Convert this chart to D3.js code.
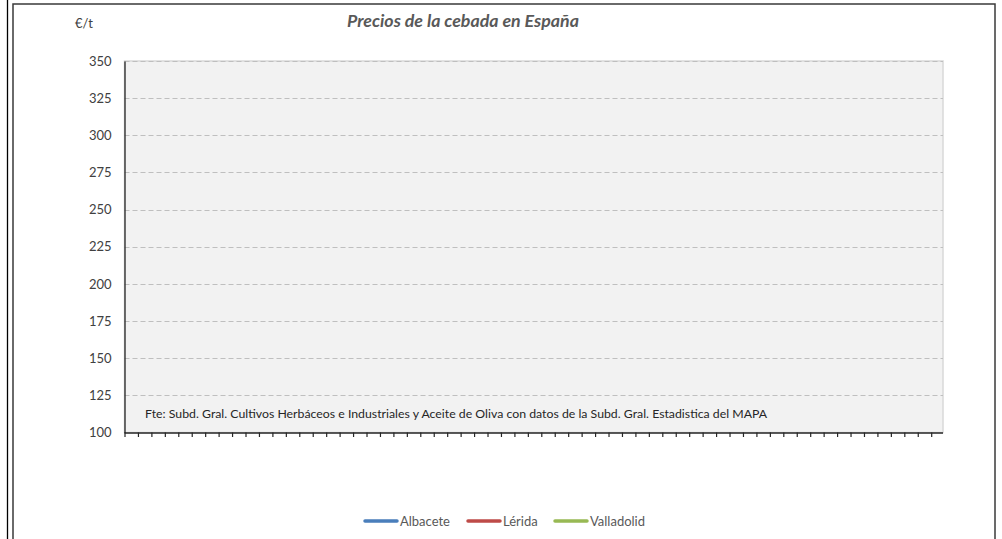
<!DOCTYPE html>
<html>
<head>
<meta charset="utf-8">
<script src="https://cdn.jsdelivr.net/npm/d3@7"></script>
<style>
  html, body { margin: 0; padding: 0; background: #fff; }
  svg { display: block; }
  text { font-family: Lato, "Open Sans", sans-serif; }
</style>
</head>
<body>
<svg id="chart" width="1002" height="539"></svg>
<script>
// ---- Data ----
const categories = ["1","2","3","4","5","6","7","8","9","10","11","12","13","14","15","16","17","18","19","20",
  "21","22","23","24","25","26","27","28","29","30","31","32","33","34","35","36","37","38","39","40",
  "41","42","43","44","45","46","47","48","49","50","51","52","53","54","55","56","57","58","59","60","61"];
const seriesNames = ["Albacete", "Lérida", "Valladolid"];
const albacete = [];
const lerida = [];
const valladolid = [];
const yTicks = [100, 125, 150, 175, 200, 225, 250, 275, 300, 325, 350];
const title = "Precios de la cebada en España";
const unitLabel = "€/t";
const sourceText = "Fte: Subd. Gral. Cultivos Herbáceos e Industriales y Aceite de Oliva con datos de la Subd. Gral. Estadistica del MAPA";

const seriesValues = [albacete, lerida, valladolid];
const colors = ["#4a7ebb", "#be4b48", "#98b954"];

// ---- Layout ----
const svg = d3.select("#chart");
const plot = { left: 124.5, top: 61, right: 943, bottom: 432.5 };

// outer frames
svg.append("line").attr("x1", 7.5).attr("x2", 7.5).attr("y1", 0).attr("y2", 539)
  .attr("stroke", "#000").attr("stroke-width", 1.3);
svg.append("rect").attr("x", 13).attr("y", 4).attr("width", 982).attr("height", 560)
  .attr("fill", "none").attr("stroke", "#3a3a3a").attr("stroke-width", 1.5);

// scales
const x = d3.scalePoint().domain(categories).range([plot.left, plot.left + 13.445 * (categories.length - 1)]);
const y = d3.scaleLinear().domain([100, 350]).range([plot.bottom, plot.top]);

// plot background
svg.append("rect").attr("x", plot.left).attr("y", plot.top)
  .attr("width", plot.right - plot.left).attr("height", plot.bottom - plot.top)
  .attr("fill", "#f2f2f2").attr("stroke", "#d9d9d9").attr("stroke-width", 1.5);

// gridlines
svg.append("g").selectAll("line").data(yTicks.filter(d => d > 100)).join("line")
  .attr("x1", plot.left).attr("x2", plot.right)
  .attr("y1", d => Math.round(y(d)) + 0.5).attr("y2", d => Math.round(y(d)) + 0.5)
  .attr("stroke", "#bfbfbf").attr("stroke-width", 1).attr("stroke-dasharray", "5,3");

// y-axis
const yAxis = d3.axisLeft(y).tickValues(yTicks).tickSize(0).tickPadding(13);
const gy = svg.append("g").attr("transform", `translate(${plot.left},0)`).call(yAxis);
gy.select(".domain").attr("stroke", "#262626").attr("stroke-width", 1.3);
gy.selectAll("text").attr("font-size", 13).attr("fill", "#404040")
  .attr("font-family", "Lato, 'Open Sans', sans-serif");

// x-axis
const xAxis = d3.axisBottom(x).tickSize(4.5).tickFormat("");
const gx = svg.append("g").attr("transform", `translate(0,${plot.bottom})`).call(xAxis);
gx.select(".domain").attr("d", `M${plot.left},0.5H${plot.right}`).attr("stroke", "#262626").attr("stroke-width", 1.3);
gx.selectAll(".tick line").attr("stroke", "#262626").attr("stroke-width", 1.2);

// series lines (empty data)
const line = d3.line().defined(d => d != null).x((d, i) => x(categories[i])).y(d => y(d));
svg.append("g").selectAll("path").data(seriesValues).join("path")
  .attr("d", d => line(d)).attr("fill", "none")
  .attr("stroke", (d, i) => colors[i]).attr("stroke-width", 2.5);

// texts
svg.append("text").attr("x", 463).attr("y", 27).attr("text-anchor", "middle")
  .attr("font-size", 17.8).attr("font-weight", "bold").attr("font-style", "italic")
  .attr("fill", "#595959").text(title);
svg.append("text").attr("x", 75).attr("y", 28).attr("font-size", 13)
  .attr("fill", "#404040").text(unitLabel);
svg.append("text").attr("x", 145).attr("y", 418).attr("font-size", 12.3)
  .attr("fill", "#262626").text(sourceText);

// legend
const legendX = [365, 468, 555];
const lg = svg.append("g").selectAll("g").data(seriesNames).join("g")
  .attr("transform", (d, i) => `translate(${legendX[i]},521)`);
lg.append("line").attr("x1", 0).attr("x2", 32).attr("y1", 0).attr("y2", 0)
  .attr("stroke", (d, i) => colors[i]).attr("stroke-width", 3.5).attr("stroke-linecap", "round");
lg.append("text").attr("x", 35).attr("y", 4.8).attr("font-size", 13)
  .attr("fill", "#595959").text(d => d);
</script>
</body>
</html>
